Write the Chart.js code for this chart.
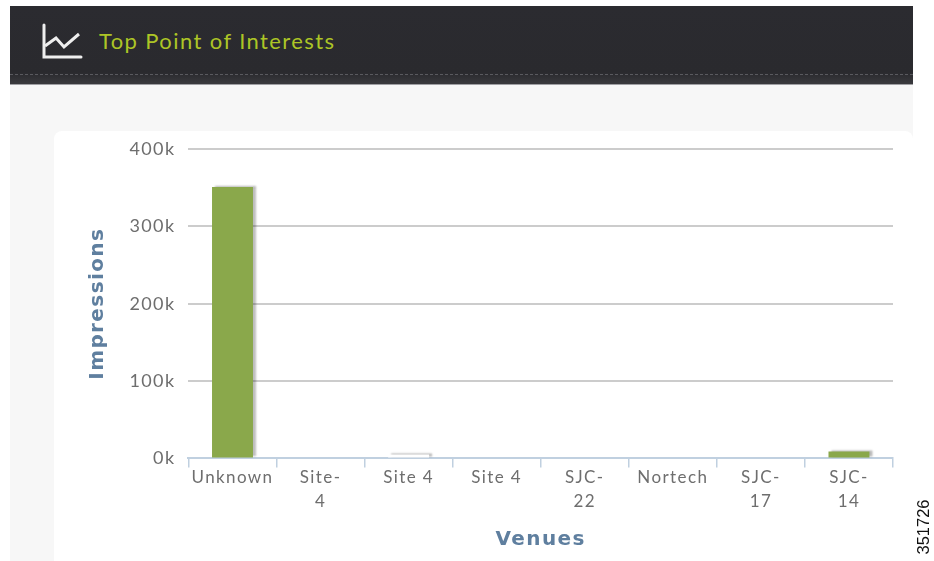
<!DOCTYPE html>
<html><head><meta charset="utf-8">
<script src="https://cdn.jsdelivr.net/npm/chart.js@4"></script>
<style>
html,body{margin:0;padding:0;background:#fff;overflow:hidden}
body{width:934px;height:561px;position:relative;font-family:"DejaVu Sans",sans-serif}
#panel{position:absolute;left:10px;top:84px;width:903px;height:477px;background:#f7f7f7}
#head{position:absolute;left:10px;top:6px;width:903px;height:79px;background:linear-gradient(#2b2b30,#2a2a2e 85%,#3a3a3e);border-bottom:1px solid #a0a0a4;box-sizing:border-box}
#head:after{content:"";position:absolute;left:0;right:0;top:68px;border-top:1px dashed #5a5a5f}
#head svg{position:absolute;left:31px;top:16px}
#title{position:absolute;left:89px;top:21px;font:22px "Lato",sans-serif;letter-spacing:1.4px;color:#adc526;line-height:28px}
#card{position:absolute;left:54px;top:131px;width:859px;height:430px;background:#fff;border-radius:8px 8px 0 0}
canvas{position:absolute;left:0;top:0}
#code{position:absolute;left:912px;top:497px;width:22px;height:60px}
#code span{position:absolute;left:11px;top:30px;transform:translate(-50%,-50%) rotate(-90deg);font:16.5px "Liberation Sans",sans-serif;color:#111;white-space:nowrap}
</style></head>
<body>
<div id="panel"></div>
<div id="head">
<svg width="44" height="44" viewBox="0 0 44 44"><path d="M3 3V35H40" fill="none" stroke="#eee" stroke-width="3" stroke-linecap="round"/><path d="M4 24L15 16L23 25L38 12" fill="none" stroke="#eee" stroke-width="3"/></svg>
<div id="title">Top Point of Interests</div>
</div>
<div id="card"><canvas id="c" width="859" height="430"></canvas></div>
<div id="code"><span>351726</span></div>
<script>
const categories=["Unknown",["Site-","4"],"Site 4","Site 4",["SJC-","22"],"Nortech",["SJC-","17"],["SJC-","14"]];
const impressions=[351000,0,5000,0,0,0,0,9000];
const barColors=["#8aa84b","#8aa84b","#ffffff","#8aa84b","#8aa84b","#8aa84b","#8aa84b","#8aa84b"];
const yTicks=[0,100000,200000,300000,400000];
const yTitle="Impressions", xTitle="Venues";
const shadow={id:"shadow",
 beforeDatasetDraw(c){const x=c.ctx;x.save();x.shadowColor="rgba(0,0,0,0.28)";x.shadowBlur=2;x.shadowOffsetX=3;x.shadowOffsetY=-1;},
 afterDatasetDraw(c){c.ctx.restore();}};
const spacing={id:"spacing",beforeDraw(c){c.ctx.letterSpacing="1.4px";}};
new Chart(document.getElementById("c"),{
 type:"bar",
 data:{labels:categories,datasets:[{data:impressions,backgroundColor:barColors,categoryPercentage:1,barPercentage:0.465}]},
 plugins:[spacing,shadow],
 options:{responsive:false,animation:false,
  layout:{padding:{left:32,right:20,top:18,bottom:9}},
  plugins:{legend:{display:false},tooltip:{enabled:false}},
  scales:{
   x:{grid:{drawOnChartArea:false,color:"#c0d0e0",tickLength:9,lineWidth:1.5},border:{color:"#c0d0e0",width:2},
      ticks:{maxRotation:0,autoSkip:false,color:"#6e6e6e",font:{family:"Lato",size:17,lineHeight:1.4},padding:-2},
      title:{display:true,text:xTitle,color:"#5f7f9f",font:{family:"DejaVu Sans",size:20,weight:"bold"},padding:{top:17,bottom:0}}},
   y:{min:0,max:400000,afterBuildTicks(s){s.ticks=yTicks.map(v=>({value:v}));},
      grid:{color:"#cccccc",lineWidth:2,tickLength:13,tickColor:"rgba(0,0,0,0)"},border:{display:false},
      ticks:{color:"#6e6e6e",font:{family:"Lato",size:18},padding:0,callback:v=>(v/1000)+"k"},
      title:{display:true,text:yTitle,color:"#5f7f9f",font:{family:"DejaVu Sans",size:20,weight:"bold"},padding:{top:0,bottom:25}}}
  }}
});
</script>
</body></html>
